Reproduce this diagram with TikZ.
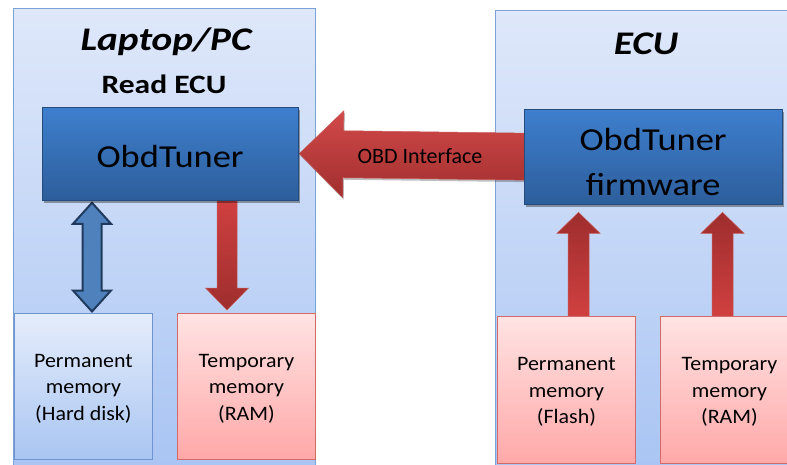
\documentclass[tikz,border=0pt]{standalone}
\usepackage{fontspec}
\setmainfont{Carlito}
\newfontfamily\wideA[FakeStretch=1.19]{Carlito}
\newfontfamily\wideB[FakeStretch=1.14]{Carlito}
\newfontfamily\wideC[FakeStretch=1.07]{Carlito}
\usetikzlibrary{calc,shadows}
\definecolor{panelTop}{HTML}{DFE8FA}
\definecolor{panelBot}{HTML}{A8C4F3}
\definecolor{panelLine}{HTML}{7EA1D6}
\definecolor{tunerTop}{HTML}{3E7FCE}
\definecolor{tunerBot}{HTML}{2D5E9B}
\definecolor{pinkTop}{HTML}{FFE3E3}
\definecolor{pinkBot}{HTML}{FFA8A8}
\definecolor{pinkLine}{HTML}{D36A6A}
\definecolor{hdTop}{HTML}{E5EDFB}
\definecolor{hdBot}{HTML}{A9C5F2}
\definecolor{hdLine}{HTML}{6F93CF}
\definecolor{redLight}{HTML}{D04040}
\definecolor{redDark}{HTML}{9E2D2D}
\definecolor{redLine}{HTML}{C65A58}
\definecolor{blueArrow}{HTML}{4F81BD}
\definecolor{blueArrowLine}{HTML}{1F3A5C}
\pgfdeclarelayer{bg}
\pgfdeclarelayer{mid}
\pgfsetlayers{bg,mid,main}
\newcommand\blockarrow[6]{%
  \coordinate (bah) at ($(#3)!#6!(#2)$);
  \path[#1] ($(#2)!#4!90:(#3)$) -- ($(bah)!#4!90:(#3)$) -- ($(bah)!#5!90:(#3)$) -- (#3)
    -- ($(bah)!#5!-90:(#3)$) -- ($(bah)!#4!-90:(#3)$) -- ($(#2)!#4!-90:(#3)$) -- cycle;}
\newcommand\dblarrow[6]{%
  \coordinate (dah1) at ($(#2)!#6!(#3)$);
  \coordinate (dah2) at ($(#3)!#6!(#2)$);
  \path[#1] (#2) -- ($(dah1)!#5!90:(#3)$) -- ($(dah1)!#4!90:(#3)$) -- ($(dah2)!#4!90:(#3)$)
    -- ($(dah2)!#5!90:(#3)$) -- (#3) -- ($(dah2)!#5!-90:(#3)$) -- ($(dah2)!#4!-90:(#3)$)
    -- ($(dah1)!#4!-90:(#3)$) -- ($(dah1)!#5!-90:(#3)$) -- cycle;}
\tikzset{
  panel/.style={draw=panelLine, line width=0.8pt, top color=panelTop, bottom color=panelBot,
    anchor=north west, inner sep=0pt},
  tuner/.style={draw=tunerBot!80!black, line width=0.3pt, top color=tunerTop, bottom color=tunerBot,
    anchor=north west, inner sep=0pt, align=center, font=\wideB\fontsize{32}{45}\selectfont,
    drop shadow={shadow xshift=1.5pt, shadow yshift=-3pt, opacity=0.35, fill=black}},
  pinkbox/.style={draw=pinkLine, line width=0.9pt, top color=pinkTop, bottom color=pinkBot,
    anchor=north west, inner sep=0pt, align=center, text height=72.6pt, text depth=5.3pt,
    font=\wideC\fontsize{20.5}{26.5}\selectfont},
  hdbox/.style={draw=hdLine, line width=0.9pt, top color=hdTop, bottom color=hdBot,
    anchor=north west, inner sep=0pt, align=center, text height=72.6pt, text depth=5.3pt,
    font=\wideC\fontsize{20.5}{26.5}\selectfont},
  title/.style={inner sep=0pt, font=\wideA\bfseries\itshape\fontsize{33}{38}\selectfont},
  subtitle/.style={inner sep=0pt, font=\wideA\bfseries\fontsize{26.5}{30}\selectfont},
  reddown/.style={draw=redLine, line width=0.5pt, top color=redLight, bottom color=redDark},
  redup/.style={draw=redLine, line width=0.5pt, top color=redDark, bottom color=redLight},
  redleft/.style={draw=redLine, line width=0.5pt, top color=redLight!95!white, bottom color=redDark!95!redLight,
    drop shadow={shadow xshift=1pt, shadow yshift=-2pt, opacity=0.25, fill=black}},
  bluedbl/.style={draw=blueArrowLine, line width=2pt, fill=blueArrow, line join=miter}
}
\begin{document}
\begin{tikzpicture}[x=1pt,y=-1pt]
\useasboundingbox (0,0) rectangle (787,464);
\clip (0,0) rectangle (787,464);
\begin{pgfonlayer}{bg}
  \node[panel, minimum width=302pt, minimum height=470pt] (lp) at (13,8) {};
  \node[panel, minimum width=320pt, minimum height=470pt] (rp) at (495,10) {};
\end{pgfonlayer}
\node[title] (tlap) at (166,42) {Laptop/PC};
\node[subtitle] (tread) at (164,84) {Read ECU};
\node[title] (tecu) at (646,44) {ECU};
\node[tuner, text height=27pt, minimum width=256pt, minimum height=93pt] (lt) at (42,107) {ObdTuner};
\node[tuner, text height=77pt, text depth=0pt, minimum width=258pt, minimum height=95pt] (rt) at (524,109) {ObdTuner\\firmware};
\node[hdbox, minimum width=138pt, minimum height=146pt] (lhd) at (14,313) {Permanent\\memory\\(Hard disk)};
\node[pinkbox, minimum width=138pt, minimum height=146pt] (lram) at (177,313) {Temporary\\memory\\(RAM)};
\node[pinkbox, minimum width=138pt, minimum height=147pt] (rfl) at (497,316) {Permanent\\memory\\(Flash)};
\node[pinkbox, minimum width=138pt, minimum height=147pt] (rram) at (660,316) {Temporary\\memory\\(RAM)};
\coordinate (xa) at (92,0);
\coordinate (xb) at (227,0);
\coordinate (xc) at (578.5,0);
\coordinate (xd) at (722.5,0);
\begin{pgfonlayer}{mid}
  \dblarrow{bluedbl}{$(xa |- lt.south)+(0,2.5)$}{$(xa |- lhd.north)+(0,-1.5)$}{9.5pt}{19pt}{21pt}
  \blockarrow{reddown}{xb |- lt.south}{$(xb |- lram.north)+(0,-3)$}{10pt}{21.5pt}{22pt}
  \blockarrow{redup}{xc |- rfl.north}{$(xc |- rt.south)+(0,8)$}{10.5pt}{21.5pt}{21pt}
  \blockarrow{redup}{xd |- rram.north}{$(xd |- rt.south)+(0,8)$}{10.5pt}{21.5pt}{21pt}
  \blockarrow{redleft}{$(rt.west)+(2,0)$}{$(lt.east)+(1,0)$}{23.5pt}{43.5pt}{44pt}
\end{pgfonlayer}
\node[inner sep=0pt, font=\fontsize{22}{26}\selectfont] (tobd) at (420,156) {OBD Interface};
\end{tikzpicture}
\end{document}
